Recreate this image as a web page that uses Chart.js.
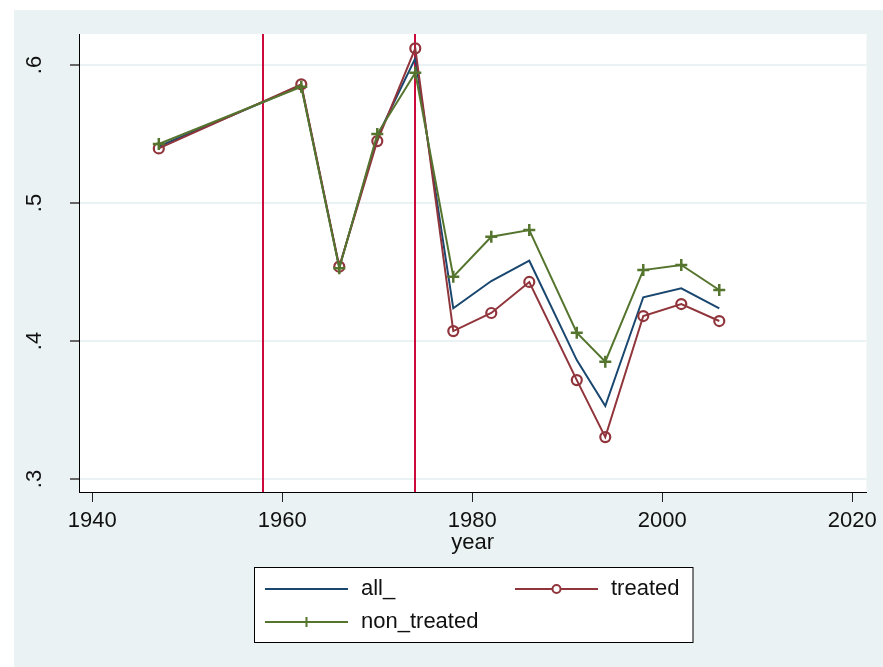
<!DOCTYPE html>
<html>
<head>
<meta charset="utf-8">
<script src="https://cdn.jsdelivr.net/npm/chart.js@4"></script>
<style>
  html, body { margin: 0; padding: 0; background: #fff; }
  #wrap { width: 883px; height: 667px; position: relative; }
</style>
</head>
<body>
<div id="wrap"><canvas id="myChart"></canvas></div>
<script>
// data
var years = [1947, 1962, 1966, 1970, 1974, 1978, 1982, 1986, 1991, 1994, 1998, 2002, 2006];
var allValues = [0.541, 0.585, 0.4533, 0.548, 0.6048, 0.4237, 0.4435, 0.4582, 0.3862, 0.3529, 0.4317, 0.4382, 0.4237];
var treatedValues = [0.5396, 0.586, 0.4539, 0.5449, 0.6121, 0.4072, 0.4203, 0.4428, 0.3717, 0.3304, 0.4181, 0.4268, 0.4145];
var nonTreatedValues = [0.5428, 0.5843, 0.4527, 0.55, 0.5944, 0.4466, 0.4756, 0.4804, 0.406, 0.385, 0.4514, 0.4551, 0.437];
var xTicks = [1940, 1960, 1980, 2000, 2020];
var yTicks = [0.3, 0.4, 0.5, 0.6];
var refYears = [1958, 1974];

var FONT = "'Liberation Sans', Arial, Helvetica, sans-serif";
var BG = '#eaf2f3';

function pts(vals) {
  return years.map(function (y, i) { return { x: y, y: vals[i] }; });
}

// outer region + white plot area
var backdrop = {
  id: 'backdrop',
  beforeDraw: function (chart) {
    var ctx = chart.ctx, a = chart.chartArea;
    ctx.save();
    ctx.fillStyle = '#fff';
    ctx.fillRect(0, 0, chart.width, chart.height);
    ctx.fillStyle = BG;
    ctx.fillRect(14, 10, chart.width - 14, chart.height - 10);
    ctx.fillStyle = '#fff';
    ctx.fillRect(a.left, a.top, a.right - a.left, a.bottom - a.top);
    ctx.restore();
  }
};

// vertical reference lines
var refLines = {
  id: 'refLines',
  beforeDatasetsDraw: function (chart) {
    var ctx = chart.ctx, a = chart.chartArea, xs = chart.scales.x;
    ctx.save();
    ctx.strokeStyle = '#cc0a3c';
    ctx.lineWidth = 2;
    refYears.forEach(function (yr) {
      var px = Math.round(xs.getPixelForValue(yr));
      ctx.beginPath();
      ctx.moveTo(px, a.top);
      ctx.lineTo(px, a.bottom);
      ctx.stroke();
    });
    ctx.restore();
  }
};

// rotated y labels and the boxed legend
var extras = {
  id: 'extras',
  afterDraw: function (chart) {
    var ctx = chart.ctx, ys = chart.scales.y;
    ctx.save();
    ctx.fillStyle = '#111';
    ctx.font = '22px ' + FONT;
    ctx.textAlign = 'center';
    ctx.textBaseline = 'middle';
    yTicks.forEach(function (v) {
      var py = ys.getPixelForValue(v);
      ctx.save();
      ctx.translate(35, py);
      ctx.rotate(-Math.PI / 2);
      ctx.fillText(String(v).replace(/^0/, ''), 0, 0);
      ctx.restore();
    });

    // legend
    ctx.fillStyle = '#fff';
    ctx.fillRect(254.5, 567.5, 438.5, 75);
    ctx.strokeStyle = '#000';
    ctx.lineWidth = 1;
    ctx.strokeRect(254.5, 567.5, 438.5, 75);

    var slots = [
      { x: 265, y: 589 },
      { x: 515, y: 589 },
      { x: 265, y: 622 }
    ];
    chart.data.datasets.forEach(function (ds, i) {
      var s = slots[i];
      ctx.strokeStyle = ds.borderColor;
      ctx.lineWidth = 2;
      ctx.beginPath();
      ctx.moveTo(s.x, s.y);
      ctx.lineTo(s.x + 83, s.y);
      ctx.stroke();
      var cx = s.x + 41.5;
      if (ds.pointStyle === 'circle' && ds.pointRadius > 0) {
        ctx.fillStyle = '#fff';
        ctx.beginPath();
        ctx.arc(cx, s.y, 4, 0, Math.PI * 2);
        ctx.fill();
        ctx.stroke();
      } else if (ds.pointStyle === 'cross') {
        ctx.beginPath();
        ctx.moveTo(cx, s.y - 5);
        ctx.lineTo(cx, s.y + 5);
        ctx.stroke();
      }
      ctx.fillStyle = '#111';
      ctx.textAlign = 'left';
      ctx.fillText(ds.label, s.x + 96, s.y);
    });
    ctx.restore();
  }
};

var ctx = document.getElementById('myChart').getContext('2d');
var myChart = new Chart(ctx, {
  type: 'line',
  data: {
    datasets: [{
      label: 'all_',
      data: pts(allValues),
      borderColor: '#1a476f',
      borderWidth: 2,
      pointRadius: 0,
      pointStyle: 'circle',
      order: 3
    }, {
      label: 'treated',
      data: pts(treatedValues),
      borderColor: '#90353b',
      borderWidth: 2,
      pointStyle: 'circle',
      pointRadius: 5,
      pointBorderWidth: 2.2,
      pointBackgroundColor: 'transparent',
      order: 2
    }, {
      label: 'non_treated',
      data: pts(nonTreatedValues),
      borderColor: '#55752f',
      borderWidth: 2,
      pointStyle: 'cross',
      pointRadius: 6,
      pointBorderWidth: 2.5,
      order: 1
    }]
  },
  options: {
    responsive: true,
    maintainAspectRatio: false,
    animation: false,
    layout: { padding: { top: 34, right: 14, bottom: 107, left: 0 } },
    plugins: { legend: { display: false }, tooltip: { enabled: false } },
    elements: { line: { tension: 0 } },
    scales: {
      x: {
        type: 'linear',
        min: 1938.6,
        max: 2021.5,
        afterFit: function (s) { s.height = 68; },
        afterBuildTicks: function (s) { s.ticks = xTicks.map(function (v) { return { value: v }; }); },
        grid: { drawOnChartArea: false, tickLength: 10, tickColor: '#222', tickWidth: 1 },
        border: { color: '#000', width: 1 },
        ticks: {
          color: '#111', font: { family: FONT, size: 22 }, padding: 6, maxRotation: 0,
          callback: function (v) { return String(v); }
        },
        title: { display: true, text: 'year', color: '#111', font: { family: FONT, size: 22 }, padding: { top: 0, bottom: 4 } }
      },
      y: {
        min: 0.2906,
        max: 0.6225,
        afterFit: function (s) { s.width = 79; },
        afterBuildTicks: function (s) { s.ticks = yTicks.map(function (v) { return { value: v }; }); },
        grid: { color: BG, lineWidth: 2, tickLength: 9, tickColor: '#666', tickWidth: 2 },
        border: { color: '#000', width: 1 },
        ticks: { display: false }
      }
    }
  },
  plugins: [backdrop, refLines, extras]
});
</script>
</body>
</html>
